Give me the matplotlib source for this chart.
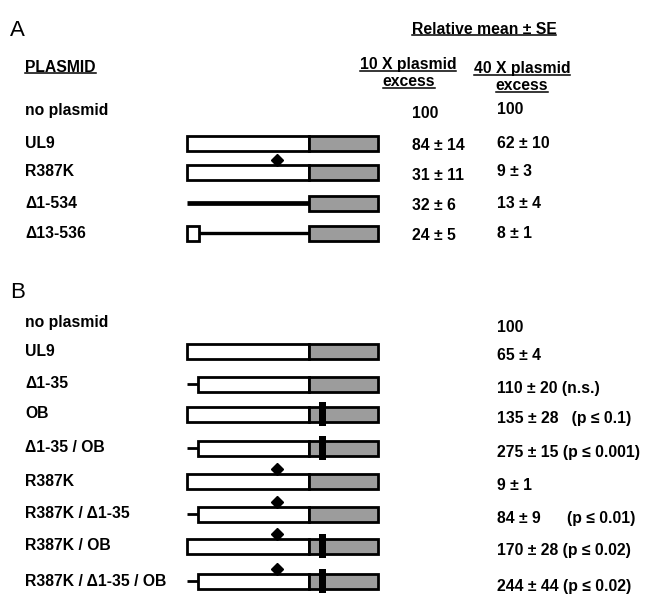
import matplotlib.pyplot as plt
from matplotlib.patches import Rectangle

plt.rcParams['font.family'] = ['Liberation Sans', 'DejaVu Sans']

# panel A data
a_labels = ['no plasmid', 'UL9', 'R387K', 'Δ1-534', 'Δ13-536']
a_shape = [None, 'full', 'full', 'd1-534', 'd13-536']
a_mut = [False, False, True, False, False]
a_10x = ['100', '84 ± 14', '31 ± 11', '32 ± 6', '24 ± 5']
a_40x = ['100', '62 ± 10', '9 ± 3', '13 ± 4', '8 ± 1']

# panel B data
b_labels = ['no plasmid', 'UL9', 'Δ1-35', 'OB', 'Δ1-35 / OB', 'R387K',
            'R387K / Δ1-35', 'R387K / OB', 'R387K / Δ1-35 / OB']
b_shape = [None, 'full', 'd1-35', 'full', 'd1-35', 'full', 'd1-35', 'full', 'd1-35']
b_mut = [False, False, False, False, False, True, True, True, True]
b_ob = [False, False, False, True, True, False, False, True, True]
b_vals = ['100', '65 ± 4', '110 ± 20 (n.s.)', '135 ± 28   (p ≤ 0.1)',
          '275 ± 15 (p ≤ 0.001)', '9 ± 1', '84 ± 9      (p ≤ 0.01)',
          '170 ± 28 (p ≤ 0.02)', '244 ± 44 (p ≤ 0.02)']

fig = plt.figure(figsize=(6.48, 5.94), dpi=100)
ax = fig.add_axes([0, 0, 1, 1])
ax.set_xlim(0, 648)
ax.set_ylim(594, 0)
ax.axis('off')

FS = 11.3
X0, XS, X1 = 187, 309, 378   # construct start / domain boundary / end
H = 15
LW = 2.0
GREY = '#9c9c9c'


def construct(y, shape, mut=False, ob=False):
    if shape is None:
        return
    if shape == 'full':
        ax.add_patch(Rectangle((X0, y - H / 2), XS - X0, H, fc='white', ec='k', lw=LW, zorder=2))
    elif shape == 'd1-35':
        ax.plot([X0, X0 + 11], [y, y], color='k', lw=2, solid_capstyle='butt', zorder=1)
        ax.add_patch(Rectangle((X0 + 11, y - H / 2), XS - X0 - 11, H, fc='white', ec='k', lw=LW, zorder=2))
    elif shape == 'd1-534':
        ax.plot([X0, XS], [y, y], color='k', lw=3.4, solid_capstyle='butt', zorder=1)
    elif shape == 'd13-536':
        ax.add_patch(Rectangle((X0, y - H / 2), 12, H, fc='white', ec='k', lw=LW, zorder=2))
        ax.plot([X0 + 12, XS], [y, y], color='k', lw=2.4, solid_capstyle='butt', zorder=1)
    ax.add_patch(Rectangle((XS, y - H / 2), X1 - XS, H, fc=GREY, ec='k', lw=LW, zorder=2))
    if ob:
        ax.add_patch(Rectangle((319, y - 12), 7, 24, fc='k', ec='none', zorder=3))
    if mut:
        ax.plot([277], [y - H / 2 - 5], marker='D', ms=6.5, color='k', zorder=3)


def underlined(x, y, s, ha='left'):
    t = ax.text(x, y, s, fontsize=FS, fontweight='bold', ha=ha, va='center')
    r = fig.canvas.get_renderer()
    bb = t.get_window_extent(renderer=r)
    inv = ax.transData.inverted()
    (xa, ya), (xb, yb) = inv.transform([[bb.x0, bb.y0], [bb.x1, bb.y1]])
    ax.plot([xa, xb], [ya - 2, ya - 2], color='k', lw=1.1)
    return t


# ---- panel A ----
ax.text(10, 30, 'A', fontsize=16, ha='left', va='center')
underlined(484, 29, 'Relative mean ± SE', ha='center')
underlined(25, 67, 'PLASMID')
underlined(408, 65, '10 X plasmid', ha='center')
underlined(409, 82, 'excess', ha='center')
underlined(522, 69, '40 X plasmid', ha='center')
underlined(522, 86, 'excess', ha='center')

a_rows = [110, 143, 172, 203, 233]
for i, lab in enumerate(a_labels):
    y = a_rows[i]
    ax.text(25, y, lab, fontsize=FS, fontweight='bold', va='center')
    construct(y, a_shape[i], a_mut[i])
    ax.text(412, y + 3, a_10x[i], fontsize=FS, fontweight='bold', va='center')
    ax.text(497, y, a_40x[i], fontsize=FS, fontweight='bold', va='center')

# ---- panel B ----
ax.text(10, 293, 'B', fontsize=16, ha='left', va='center')
b_rows = [323, 351, 384, 414, 448, 481, 514, 546, 581]
for i, lab in enumerate(b_labels):
    y = b_rows[i]
    ax.text(25, y, lab, fontsize=FS, fontweight='bold', va='center')
    construct(y, b_shape[i], b_mut[i], b_ob[i])
    ax.text(497, y + 5, b_vals[i], fontsize=FS, fontweight='bold', va='center')

fig.savefig('out.png', dpi=100)
